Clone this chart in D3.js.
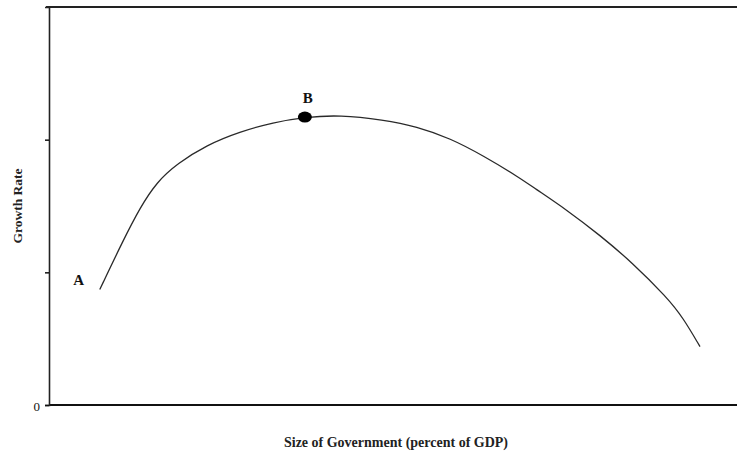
<!DOCTYPE html>
<html lang="en">
	<head>
		<meta charset="utf-8">
		<title>growth rate vs size of government</title>
		<script src="https://cdn.jsdelivr.net/npm/d3@7"></script>
		<style>
			body { margin: 0; background: #fff; }
			text { font-family: "Liberation Serif", "DejaVu Serif", serif; }
		</style>
	</head>
	<body>
	<script>

			//Width and height
			var w = 737;
			var h = 454;

			//Curve (x: size of government, y: growth rate)
			var sizeGov = [7.4, 10.8, 13.3, 15.7, 18.7, 23.0, 27.8, 32.7, 37.3, 42.4, 48.7, 53.6, 58.5, 63.3, 68.7, 70.6, 75.5, 80.3, 85.1, 90.1, 92.4, 94.9];
			var growth  = [0.87, 1.24, 1.49, 1.68, 1.82, 1.96, 2.06, 2.13, 2.17, 2.186, 2.15, 2.10, 2.01, 1.88, 1.71, 1.64, 1.47, 1.28, 1.07, 0.81, 0.66, 0.44];

			//Marked points
			var pointNames = ["A", "B"];
			var pointX = [7.4, 37.3];
			var pointY = [0.87, 2.17];

			var yTicks = [0, 1, 2];

			var x = d3.scaleLinear().domain([0, 100]).range([49, 735]);
			var y = d3.scaleLinear().domain([0, 3]).range([405, 7]);

			var svg = d3.select("body")
						.append("svg")
						.attr("width", w)
						.attr("height", h);

			//Frame lines: top, bottom
			svg.append("line")
			   .attr("x1", 46).attr("x2", w)
			   .attr("y1", y(3)).attr("y2", y(3))
			   .attr("stroke", "#222").attr("stroke-width", 2);

			svg.append("line")
			   .attr("x1", 49).attr("x2", w)
			   .attr("y1", y(0)).attr("y2", y(0))
			   .attr("stroke", "#111").attr("stroke-width", 2);

			//Y axis
			var yAxis = d3.axisLeft(y)
						  .tickValues(yTicks)
						  .tickSize(4)
						  .tickFormat(function(d) { return d === 0 ? "0" : ""; });

			var gy = svg.append("g")
						.attr("transform", "translate(49,0)")
						.call(yAxis);
			gy.select(".domain").attr("stroke", "#222").attr("stroke-width", 1.6);
			gy.selectAll(".tick line").attr("stroke", "#111").attr("stroke-width", 1.5);
			gy.selectAll(".tick text")
			  .attr("x", -9)
			  .attr("dy", "0.45em")
			  .style("font-size", "13px")
			  .attr("fill", "#111");

			//The curve
			var data = sizeGov.map(function(d, i) { return [d, growth[i]]; });
			var line = d3.line()
						 .x(function(d) { return x(d[0]); })
						 .y(function(d) { return y(d[1]); })
						 .curve(d3.curveBasis);

			svg.append("path")
			   .datum(data)
			   .attr("d", line)
			   .attr("fill", "none")
			   .attr("stroke", "#2a2a2a")
			   .attr("stroke-width", 1.3);

			//Point B dot
			svg.append("ellipse")
			   .attr("cx", x(pointX[1]))
			   .attr("cy", y(pointY[1]))
			   .attr("rx", 7)
			   .attr("ry", 5.5)
			   .attr("fill", "#000");

			//Labels A and B
			svg.append("text")
			   .text(pointNames[0])
			   .attr("x", x(pointX[0]) - 21)
			   .attr("y", y(pointY[0]) - 5)
			   .attr("text-anchor", "middle")
			   .attr("font-weight", "bold")
			   .attr("font-size", "15px")
			   .attr("fill", "#111");

			svg.append("text")
			   .text(pointNames[1])
			   .attr("x", x(pointX[1]) + 3)
			   .attr("y", y(pointY[1]) - 14)
			   .attr("text-anchor", "middle")
			   .attr("font-weight", "bold")
			   .attr("font-size", "15px")
			   .attr("fill", "#111");

			//Axis titles
			svg.append("text")
			   .text("Growth Rate")
			   .attr("transform", "translate(22,206) rotate(-90)")
			   .attr("text-anchor", "middle")
			   .attr("font-weight", "bold")
			   .attr("font-size", "13.5px")
			   .attr("fill", "#222");

			svg.append("text")
			   .text("Size of Government (percent of GDP)")
			   .attr("x", 396)
			   .attr("y", 447)
			   .attr("text-anchor", "middle")
			   .attr("font-weight", "bold")
			   .attr("font-size", "14px")
			   .attr("fill", "#222");

	</script>
	</body>
</html>
